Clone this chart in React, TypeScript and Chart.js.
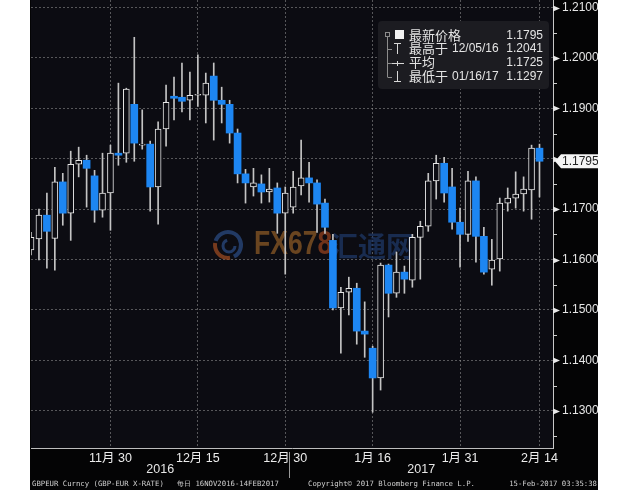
import React, { useEffect, useRef } from "react";
import { Chart, registerables } from "chart.js";

Chart.register(...registerables);

// Trading days (MM/DD), 16 Nov 2016 – 14 Feb 2017
const dates = [
  "11/16", "11/17", "11/18", "11/21", "11/22", "11/23", "11/24", "11/25", "11/28", "11/29", "11/30",
  "12/01", "12/02", "12/05", "12/06", "12/07", "12/08", "12/09", "12/12", "12/13", "12/14", "12/15",
  "12/16", "12/19", "12/20", "12/21", "12/22", "12/23", "12/26", "12/27", "12/28", "12/29", "12/30",
  "01/02", "01/03", "01/04", "01/05", "01/06", "01/09", "01/10", "01/11", "01/12", "01/13", "01/16",
  "01/17", "01/18", "01/19", "01/20", "01/23", "01/24", "01/25", "01/26", "01/27", "01/30", "01/31",
  "02/01", "02/02", "02/03", "02/06", "02/07", "02/08", "02/09", "02/10", "02/13", "02/14",
];

const opens = [
  1.1619, 1.1641, 1.1688, 1.1642, 1.1754, 1.1692, 1.1789, 1.1797, 1.1766, 1.1698, 1.1732,
  1.1811, 1.1811, 1.1908, 1.1827, 1.1829, 1.1744, 1.1859, 1.1924, 1.1922, 1.1916, 1.1926,
  1.1926, 1.1964, 1.1916, 1.1908, 1.1851, 1.1770, 1.1744, 1.1750, 1.1734, 1.1742, 1.1692,
  1.1704, 1.1746, 1.1762, 1.1752, 1.1712, 1.1638, 1.1504, 1.1535, 1.1543, 1.1458, 1.1424,
  1.1365, 1.1589, 1.1533, 1.1575, 1.1559, 1.1644, 1.1666, 1.1756, 1.1791, 1.1744, 1.1674,
  1.1650, 1.1756, 1.1646, 1.1581, 1.1601, 1.1712, 1.1722, 1.1730, 1.1738, 1.1821,
];
const highs = [
  1.1654, 1.1700, 1.1732, 1.1783, 1.1771, 1.1815, 1.1823, 1.1807, 1.1777, 1.1811, 1.1827,
  1.1950, 1.1940, 1.2041, 1.1897, 1.1835, 1.1873, 1.1946, 1.1962, 1.1990, 1.1972, 1.2006,
  1.1970, 1.1990, 1.1942, 1.1916, 1.1859, 1.1779, 1.1781, 1.1768, 1.1781, 1.1752, 1.1744,
  1.1775, 1.1837, 1.1793, 1.1758, 1.1720, 1.1650, 1.1545, 1.1565, 1.1553, 1.1516, 1.1428,
  1.1593, 1.1591, 1.1615, 1.1587, 1.1650, 1.1676, 1.1771, 1.1807, 1.1803, 1.1781, 1.1702,
  1.1775, 1.1764, 1.1664, 1.1640, 1.1722, 1.1742, 1.1774, 1.1764, 1.1827, 1.1829,
];
const lows = [
  1.1609, 1.1599, 1.1583, 1.1579, 1.1668, 1.1638, 1.1764, 1.1704, 1.1674, 1.1684, 1.1658,
  1.1787, 1.1793, 1.1795, 1.1819, 1.1696, 1.1670, 1.1825, 1.1877, 1.1893, 1.1877, 1.1904,
  1.1871, 1.1837, 1.1871, 1.1831, 1.1752, 1.1712, 1.1726, 1.1712, 1.1714, 1.1652, 1.1571,
  1.1692, 1.1728, 1.1714, 1.1654, 1.1652, 1.1500, 1.1414, 1.1490, 1.1432, 1.1406, 1.1297,
  1.1341, 1.1486, 1.1525, 1.1533, 1.1545, 1.1561, 1.1656, 1.1720, 1.1714, 1.1660, 1.1585,
  1.1636, 1.1595, 1.1571, 1.1549, 1.1577, 1.1696, 1.1702, 1.1696, 1.1680, 1.1724,
];
const closes = [
  1.1644, 1.1688, 1.1656, 1.1754, 1.1692, 1.1789, 1.1797, 1.1781, 1.1698, 1.1732, 1.1811,
  1.1807, 1.1938, 1.1831, 1.1829, 1.1744, 1.1859, 1.1912, 1.1920, 1.1914, 1.1926, 1.1928,
  1.1950, 1.1916, 1.1908, 1.1851, 1.1770, 1.1752, 1.1752, 1.1734, 1.1740, 1.1692, 1.1732,
  1.1744, 1.1762, 1.1752, 1.1710, 1.1664, 1.1504, 1.1535, 1.1543, 1.1458, 1.1452, 1.1365,
  1.1589, 1.1533, 1.1575, 1.1561, 1.1644, 1.1666, 1.1756, 1.1791, 1.1732, 1.1674, 1.1650,
  1.1756, 1.1646, 1.1575, 1.1599, 1.1712, 1.1722, 1.1730, 1.1740, 1.1821, 1.1795,
];

const xTickDates = ["11/30", "12/15", "12/30", "01/16", "01/31", "02/14"];
const xTickLabels = ["11月 30", "12月 15", "12月 30", "1月 16", "1月 31", "2月 14"];
const yTicks = [1.13, 1.14, 1.15, 1.16, 1.17, 1.18, 1.19, 1.2, 1.21];
const yMinorTicks = [1.125, 1.135, 1.145, 1.155, 1.165, 1.175, 1.185, 1.195, 1.205];
const yearLabels = ["2016", "2017"];

const legendNames = ["最新价格", "最高于", "平均", "最低于"];
const legendDates = ["", "12/05/16", "", "01/16/17"];
const legendValues = ["1.1795", "1.2041", "1.1725", "1.1297"];

const footerLeft = "GBPEUR Curncy (GBP-EUR X-RATE)";
const footerRange = "每日 16NOV2016-14FEB2017";
const footerCopy = "Copyright© 2017 Bloomberg Finance L.P.";
const footerTime = "15-Feb-2017 03:35:38";

const NUM_FONT = '"Liberation Sans", Arial, sans-serif';
const CJK_FONT = '"Liberation Sans", "Noto Sans CJK SC", sans-serif';
const PLOT_BG = "#0c0c12";
const OUTER_BG = "#040405";

const decor = {
  id: "decor",
  beforeDraw(chart: any) {
    const { ctx, chartArea: ca } = chart;
    ctx.save();
    ctx.fillStyle = OUTER_BG;
    ctx.fillRect(0, 0, chart.width, chart.height);
    ctx.fillStyle = PLOT_BG;
    ctx.fillRect(ca.left, ca.top, ca.right - ca.left, ca.bottom - ca.top);
    ctx.restore();
  },
  beforeDatasetsDraw(chart: any) {
    // watermark
    const { ctx } = chart;
    ctx.save();
    ctx.globalAlpha = 0.75;
    const cx = 198, cy = 245;
    ctx.lineWidth = 4;
    ctx.strokeStyle = "#2a4a80";
    ctx.beginPath();
    ctx.arc(cx, cy, 13, -Math.PI * 0.9, Math.PI * 0.35);
    ctx.stroke();
    ctx.strokeStyle = "#9a4a22";
    ctx.beginPath();
    ctx.arc(cx, cy, 13, Math.PI * 0.45, Math.PI * 1.05);
    ctx.stroke();
    ctx.lineWidth = 3;
    ctx.strokeStyle = "#2a4a80";
    ctx.beginPath();
    ctx.arc(cx + 1, cy + 1, 6, 0, Math.PI * 1.4);
    ctx.stroke();
    ctx.font = 'bold 34px "Liberation Sans", Arial, sans-serif';
    ctx.textBaseline = "middle";
    ctx.save();
    ctx.translate(224, cy);
    ctx.scale(0.78, 1);
    ctx.fillStyle = "#8a5826";
    ctx.fillText("FX67", 0, 0);
    const w = ctx.measureText("FX67").width;
    ctx.fillStyle = "#93401e";
    ctx.fillText("8", w, 0);
    ctx.restore();
    ctx.font = 'bold 28px "Noto Sans CJK SC", sans-serif';
    ctx.fillStyle = "#1d3766";
    ctx.fillText("汇通网", 300, cy + 1);
    ctx.restore();
  },
  afterDraw(chart: any) {
    const { ctx, chartArea: ca, scales } = chart;
    const y = scales.y;
    const x = scales.x;
    const ax = ca.right;
    const W = chart.width;
    ctx.save();

    // major tick arrows
    ctx.fillStyle = "#e8e8e8";
    yTicks.forEach((v) => {
      const py = Math.round(y.getPixelForValue(v)) + 0.5;
      ctx.beginPath();
      ctx.moveTo(ax, py - 3);
      ctx.lineTo(ax + 7, py);
      ctx.lineTo(ax, py + 3);
      ctx.closePath();
      ctx.fill();
    });
    // minor ticks
    ctx.strokeStyle = "#cfcfcf";
    ctx.lineWidth = 1;
    yMinorTicks.forEach((v) => {
      const py = Math.round(y.getPixelForValue(v)) + 0.5;
      ctx.beginPath();
      ctx.moveTo(ax, py);
      ctx.lineTo(ax + 4, py);
      ctx.stroke();
    });

    // last price tag
    const last = closes[closes.length - 1];
    const ly = y.getPixelForValue(last);
    ctx.fillStyle = "#f4f4f4";
    ctx.beginPath();
    ctx.moveTo(ax + 2, ly);
    ctx.lineTo(ax + 8, ly - 7);
    ctx.lineTo(W, ly - 7);
    ctx.lineTo(W, ly + 7);
    ctx.lineTo(ax + 8, ly + 7);
    ctx.closePath();
    ctx.fill();
    ctx.fillStyle = "#222";
    ctx.font = `12px ${NUM_FONT}`;
    ctx.textBaseline = "middle";
    ctx.textAlign = "left";
    ctx.fillText(last.toFixed(4), ax + 9, ly + 0.5);

    // legend box
    const bx = 348, by = 21, bw = 171, bh = 68;
    ctx.fillStyle = "#1c1c21";
    ctx.beginPath();
    (ctx as any).roundRect(bx, by, bw, bh, 4);
    ctx.fill();
    const rows = [35, 48.5, 62.5, 76.5];
    // tree lines
    ctx.strokeStyle = "#8c8c8c";
    ctx.lineWidth = 1;
    ctx.strokeRect(355.5, 32.5, 4, 4);
    ctx.beginPath();
    ctx.moveTo(357.5, 37);
    ctx.lineTo(357.5, rows[3] + 0.5);
    [rows[1], rows[2], rows[3]].forEach((ry) => {
      ctx.moveTo(357.5, Math.round(ry) + 0.5);
      ctx.lineTo(362, Math.round(ry) + 0.5);
    });
    ctx.stroke();
    // symbols
    ctx.fillStyle = "#f2f2f2";
    ctx.fillRect(365, 30, 9, 9);
    ctx.strokeStyle = "#d8d8d8";
    ctx.beginPath();
    ctx.moveTo(364, 43.5); ctx.lineTo(371, 43.5);
    ctx.moveTo(367.5, 43.5); ctx.lineTo(367.5, 54);
    ctx.moveTo(362, 63.5); ctx.lineTo(374, 63.5);
    ctx.moveTo(367.5, 61); ctx.lineTo(367.5, 66);
    ctx.moveTo(367.5, 71); ctx.lineTo(367.5, 82);
    ctx.moveTo(364, 81.5); ctx.lineTo(371, 81.5);
    ctx.stroke();
    // texts
    ctx.fillStyle = "#e4e4e4";
    ctx.textBaseline = "middle";
    legendNames.forEach((n, i) => {
      ctx.textAlign = "left";
      ctx.font = '13px "Noto Sans CJK SC", sans-serif';
      ctx.fillText(n, 379, rows[i]);
      ctx.font = `12px ${NUM_FONT}`;
      if (legendDates[i]) ctx.fillText(legendDates[i], 422, rows[i] + 0.5);
      ctx.textAlign = "right";
      ctx.fillText(legendValues[i], 513, rows[i] + 0.5);
    });

    // year labels and separator
    const firstJan = dates.findIndex((d) => d.startsWith("01/"));
    const sep = Math.round(x.getPixelForValue(firstJan - 0.5)) + 0.5;
    ctx.strokeStyle = "#9a9a9a";
    ctx.beginPath();
    ctx.moveTo(sep, ca.bottom + 4);
    ctx.lineTo(sep, ca.bottom + 30);
    ctx.stroke();
    ctx.fillStyle = "#e6e6e6";
    ctx.font = `12.5px ${NUM_FONT}`;
    ctx.textAlign = "center";
    ctx.textBaseline = "middle";
    ctx.fillText(yearLabels[0], (ca.left + sep) / 2, ca.bottom + 22);
    ctx.fillText(yearLabels[1], (sep + ca.right) / 2, ca.bottom + 22);

    // footer
    ctx.fillStyle = "#d0d0d0";
    ctx.font = '7.3px "DejaVu Sans Mono", monospace';
    ctx.textAlign = "left";
    ctx.fillText(footerLeft, 2, 484);
    ctx.fillText(footerRange, 147, 484);
    ctx.fillText(footerCopy, 278, 484);
    ctx.textAlign = "right";
    ctx.fillText(footerTime, 567, 484);
    ctx.restore();
  },
};

export default function App() {
  const ref = useRef<HTMLCanvasElement>(null);

  useEffect(() => {
    const canvas = ref.current;
    if (!canvas) return;
    const up: any[] = [];
    const down: any[] = [];
    const wicks: any[] = [];
    dates.forEach((_, i) => {
      const o = opens[i], c = closes[i];
      wicks.push({ x: i, y: [lows[i], highs[i]] });
      if (c >= o) up.push({ x: i, y: [o, c] });
      else down.push({ x: i, y: [c, o] });
    });
    const xTickIdx = xTickDates.map((d) => dates.indexOf(d));
    const lastClose = closes[closes.length - 1];

    const chart = new Chart(canvas, {
      type: "bar",
      data: {
        datasets: [
          {
            label: "up",
            data: up,
            backgroundColor: PLOT_BG,
            borderColor: "#e6e6e6",
            borderWidth: 1,
            borderSkipped: false,
            barThickness: 6,
            grouped: false,
            order: 0,
            clip: 0,
          } as any,
          {
            label: "down",
            data: down,
            backgroundColor: "#1d86f2",
            borderWidth: 0,
            barThickness: 7,
            grouped: false,
            order: 1,
            clip: 0,
          } as any,
          {
            label: "range",
            data: wicks,
            backgroundColor: "#c4c4c4",
            borderWidth: 0,
            barThickness: 1,
            grouped: false,
            order: 2,
            clip: 0,
          } as any,
        ],
      },
      options: {
        animation: false,
        responsive: false,
        maintainAspectRatio: false,
        devicePixelRatio: 1,
        layout: { padding: { left: 1, top: 0, right: 0, bottom: 0 } },
        plugins: { legend: { display: false }, tooltip: { enabled: false } },
        scales: {
          x: {
            type: "linear",
            min: 0,
            max: 65.7,
            offset: false,
            afterBuildTicks: (s: any) => {
              s.ticks = xTickIdx.map((v) => ({ value: v }));
            },
            afterFit: (s: any) => {
              s.height = 42;
              s.paddingLeft = 0;
              s.paddingRight = 0;
            },
            ticks: {
              autoSkip: false,
              maxRotation: 0,
              padding: 3,
              color: "#ececec",
              font: { family: CJK_FONT, size: 12.5 },
              callback: (v: any) => xTickLabels[xTickIdx.indexOf(Number(v))] ?? "",
            },
            grid: {
              offset: false,
              color: "rgba(150,150,150,0.55)",
              lineWidth: 1,
              drawTicks: false,
            },
            border: { display: true, color: "#bdbdbd", width: 1, dash: [2, 2] },
          },
          y: {
            position: "right",
            min: 1.1226,
            max: 1.2115,
            afterBuildTicks: (s: any) => {
              s.ticks = yTicks.map((v) => ({ value: v }));
            },
            afterFit: (s: any) => {
              s.width = 45;
              s.paddingTop = 0;
              s.paddingBottom = 0;
            },
            ticks: {
              padding: 9,
              color: "#e6e6e6",
              font: { family: NUM_FONT, size: 12 },
              callback: (v: any) =>
                Math.abs(Number(v) - lastClose) < 0.002 ? "" : Number(v).toFixed(4),
            },
            grid: {
              color: "rgba(150,150,150,0.55)",
              lineWidth: 1,
              drawTicks: false,
            },
            border: { display: true, color: "#c8c8c8", width: 1, dash: [2, 2] },
          },
        },
      } as any,
      plugins: [decor],
    });
    return () => chart.destroy();
  }, []);

  return (
    <div
      style={{
        position: "absolute",
        left: 0,
        top: 0,
        width: 630,
        height: 490,
        background: "#ffffff",
        overflow: "hidden",
      }}
    >
      <div style={{ position: "absolute", left: 30, top: 0, width: 568, height: 490 }}>
        <canvas ref={ref} width={568} height={490} style={{ display: "block", width: 568, height: 490 }} />
      </div>
    </div>
  );
}
